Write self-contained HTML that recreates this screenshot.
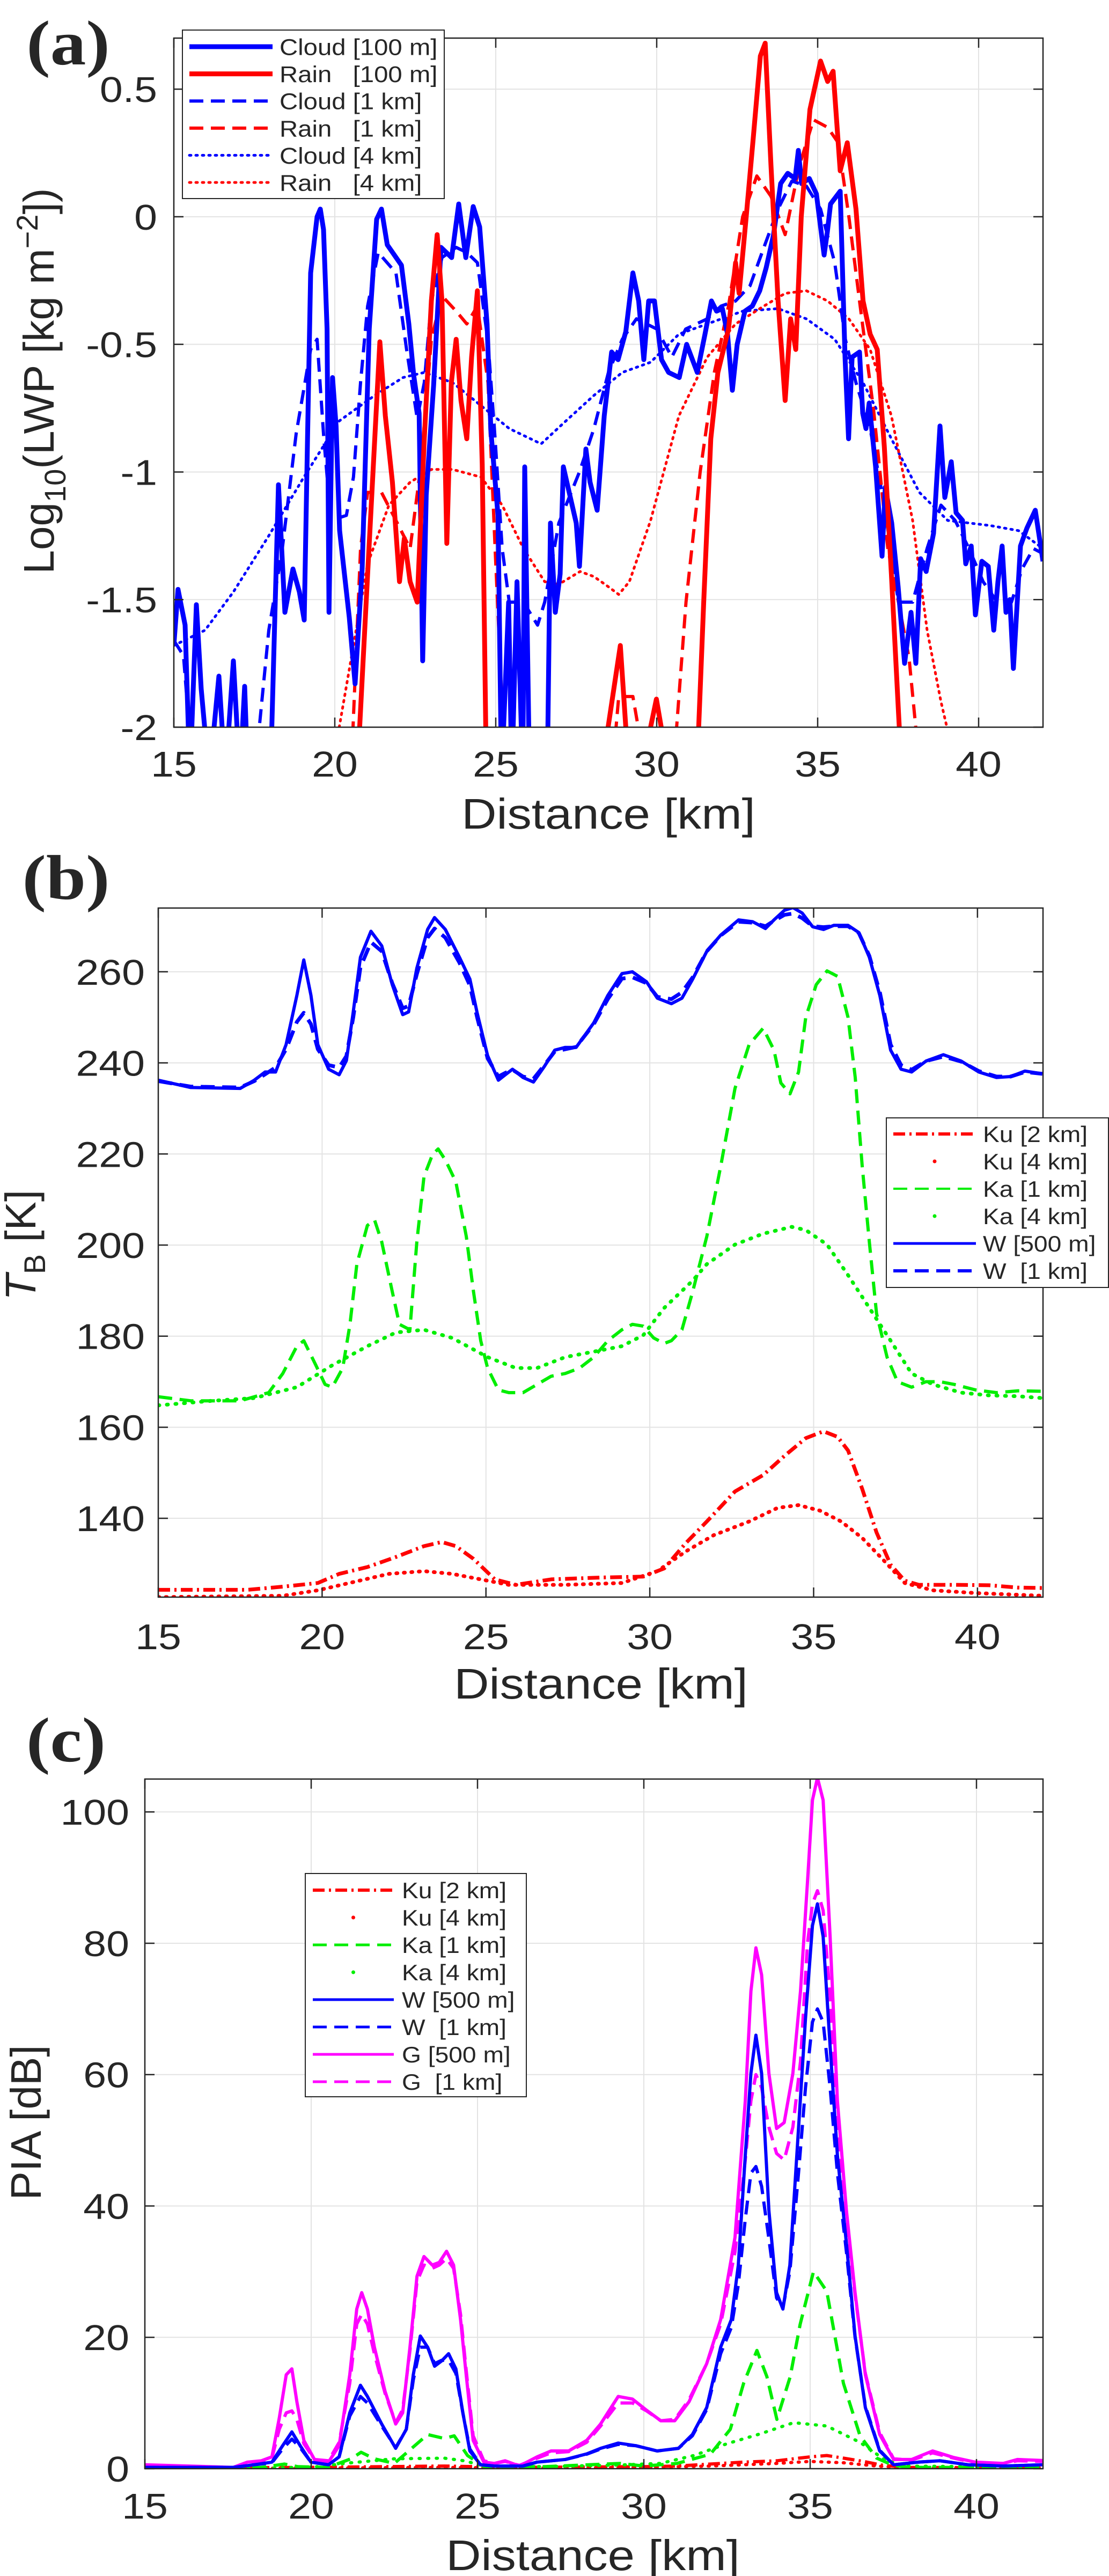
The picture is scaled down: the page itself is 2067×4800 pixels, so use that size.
<!DOCTYPE html>
<html><head><meta charset="utf-8"><style>
html,body{margin:0;padding:0;background:#fff}
svg{display:block}
text{font-family:"Liberation Sans",sans-serif;fill:#262626;white-space:pre}
</style></head><body>
<svg id="fig" width="2067" height="4800" viewBox="0 0 2067 4800" xmlns="http://www.w3.org/2000/svg" xml:space="preserve"></svg>
<script>
// ---------- Panel (a) data: LWP ----------
const aCloud100X=[15,15.13,15.35,15.5,15.7,15.85,16.1,16.4,16.6,16.85,17.05,17.2,17.3,18.0,18.25,18.45,18.7,18.9,19.05,19.15,19.25,19.45,19.55,19.65,19.76,19.82,19.93,20.04,20.15,20.3,20.45,20.63,20.85,21.07,21.3,21.45,21.63,21.85,22.07,22.3,22.45,22.62,22.73,22.84,23.07,23.3,23.63,23.85,24.07,24.3,24.5,24.73,24.85,25.07,25.18,25.4,25.5,25.66,25.84,25.9,26.05,26.6,26.7,26.85,27.0,27.1,27.3,27.5,27.6,27.8,27.93,28.15,28.37,28.6,28.8,29.04,29.26,29.44,29.6,29.75,29.93,30.15,30.37,30.7,30.93,31.26,31.5,31.7,31.86,32.04,32.2,32.35,32.5,32.74,32.97,33.2,33.4,33.63,33.85,34.07,34.3,34.4,34.5,34.74,34.96,35.2,35.3,35.4,35.7,35.85,35.96,36.07,36.3,36.4,36.5,36.6,36.8,37.0,37.1,37.3,37.5,37.7,37.9,38.05,38.2,38.37,38.6,38.8,38.95,39.15,39.3,39.5,39.6,39.77,39.9,40.1,40.3,40.47,40.6,40.73,40.85,40.97,41.08,41.3,41.5,41.76,42.0];
const aCloud100Y=[-1.68,-1.46,-1.6,-2.2,-1.52,-1.85,-2.2,-1.8,-2.2,-1.74,-2.2,-1.84,-2.2,-2.2,-1.05,-1.55,-1.38,-1.47,-1.58,-0.89,-0.22,0.0,0.03,-0.05,-0.44,-1.55,-0.63,-0.82,-1.23,-1.4,-1.57,-1.83,-1.38,-0.44,-0.01,0.03,-0.11,-0.15,-0.19,-0.42,-0.62,-0.77,-1.74,-1.09,-0.66,-0.12,-0.16,0.05,-0.16,0.04,-0.04,-0.42,-0.84,-1.17,-2.2,-1.51,-2.2,-1.43,-2.2,-0.98,-2.2,-2.2,-1.2,-1.55,-1.4,-0.98,-1.09,-1.2,-1.37,-0.91,-1.04,-1.15,-0.78,-0.53,-0.56,-0.45,-0.22,-0.33,-0.56,-0.33,-0.33,-0.56,-0.61,-0.63,-0.5,-0.61,-0.46,-0.33,-0.37,-0.36,-0.46,-0.68,-0.5,-0.37,-0.35,-0.29,-0.2,-0.07,0.13,0.17,0.15,0.26,0.13,0.15,0.09,-0.15,-0.06,0.05,0.1,-0.55,-0.87,-0.55,-0.53,-0.77,-0.83,-0.73,-0.98,-1.33,-1.06,-1.2,-1.45,-1.75,-1.55,-1.75,-1.34,-1.39,-1.24,-0.82,-1.1,-0.96,-1.16,-1.19,-1.36,-1.29,-1.56,-1.35,-1.37,-1.62,-1.43,-1.29,-1.55,-1.5,-1.77,-1.29,-1.22,-1.15,-1.35];
const aRain100X=[20.69,21.02,21.4,21.57,21.79,22.01,22.16,22.34,22.56,22.78,23.0,23.18,23.33,23.48,23.62,23.77,23.92,24.1,24.25,24.43,24.58,24.71,NaN,28.4,28.49,28.87,29.04,29.1,NaN,29.75,29.81,29.99,30.14,30.2,NaN,31.24,31.46,31.68,31.9,32.23,32.45,32.56,32.78,33.0,33.22,33.37,33.55,33.77,33.99,34.16,34.32,34.49,34.76,35.09,35.31,35.48,35.7,35.92,36.19,36.41,36.63,36.85,37.07,37.29,37.51,37.62];
const aRain100Y=[-2.2,-1.4,-0.49,-0.78,-1.04,-1.43,-1.26,-1.43,-1.51,-0.87,-0.33,-0.07,-0.33,-1.28,-0.65,-0.48,-0.72,-0.87,-0.55,-0.29,-0.97,-2.2,NaN,-2.2,-2.0,-1.68,-2.0,-2.2,NaN,-2.2,-2.0,-1.89,-2.0,-2.2,NaN,-2.2,-1.51,-0.87,-0.61,-0.44,-0.18,-0.3,0.0,0.31,0.63,0.68,0.2,-0.33,-0.72,-0.4,-0.52,0.0,0.42,0.61,0.53,0.57,0.18,0.29,0.03,-0.33,-0.46,-0.52,-0.9,-1.4,-1.94,-2.2];
const aCloud1X=[15,15.3,15.6,17.5,17.95,18.37,18.8,19.25,19.45,19.66,19.88,20.36,20.58,20.8,21.02,21.35,21.9,22.23,22.56,22.78,23.0,23.33,23.77,24.1,24.43,24.76,24.98,25.2,25.42,25.86,26.3,26.52,26.96,27.6,28.05,28.5,28.93,29.37,30.0,30.47,30.9,31.57,32.0,32.45,32.9,33.33,33.77,34.2,34.65,35.09,35.53,35.86,36.19,36.63,37.07,37.51,37.95,38.4,38.83,39.27,39.7,40.14,40.58,41.02,41.35,41.7,42.0];
const aCloud1Y=[-1.66,-1.72,-2.2,-2.2,-1.62,-1.3,-0.85,-0.52,-0.48,-0.87,-1.19,-1.17,-1.02,-0.65,-0.35,-0.14,-0.22,-0.52,-0.79,-0.65,-0.33,-0.16,-0.12,-0.14,-0.18,-0.49,-0.87,-1.3,-1.51,-1.51,-1.6,-1.51,-1.2,-1.0,-0.83,-0.61,-0.48,-0.4,-0.44,-0.55,-0.44,-0.4,-0.35,-0.33,-0.27,-0.12,0.03,0.14,0.12,0.03,-0.18,-0.48,-0.65,-0.83,-1.13,-1.51,-1.51,-1.3,-1.13,-1.19,-1.3,-1.43,-1.51,-1.51,-1.38,-1.3,-1.32];
const aRain1X=[20.5,20.8,21.02,21.45,21.9,22.34,22.67,23.0,23.33,23.77,24.1,24.43,24.76,24.98,25.3,NaN,28.6,28.82,29.26,29.7,NaN,30.5,30.91,31.35,31.79,32.23,32.67,33.11,33.55,33.99,34.43,34.87,35.31,35.64,35.97,36.3,36.74,37.18,37.51,37.84,38.2];
const aRain1Y=[-2.2,-1.3,-1.08,-1.08,-1.19,-1.3,-0.98,-0.48,-0.31,-0.37,-0.42,-0.35,-0.65,-1.3,-2.2,NaN,-2.2,-1.88,-1.88,-2.2,NaN,-2.2,-1.51,-1.0,-0.61,-0.35,0.0,0.16,0.08,-0.07,0.2,0.38,0.35,0.29,0.0,-0.33,-0.76,-1.3,-1.51,-1.73,-2.2];
const aCloud4X=[15,15.97,16.85,17.95,19.04,20.14,21.24,22.12,22.78,23.66,24.54,25.42,26.41,27.18,28.05,28.93,29.81,30.69,31.57,32.67,33.77,34.65,35.53,36.41,37.29,38.16,39.04,40.36,41.24,42];
const aCloud4Y=[-1.68,-1.62,-1.47,-1.25,-1.02,-0.8,-0.7,-0.63,-0.61,-0.65,-0.74,-0.83,-0.89,-0.8,-0.7,-0.61,-0.57,-0.46,-0.42,-0.37,-0.36,-0.4,-0.48,-0.65,-0.87,-1.08,-1.19,-1.21,-1.23,-1.3];
const aRain4X=[20.0,20.58,21.02,21.68,22.34,23.0,23.66,24.54,25.2,25.86,26.52,26.96,27.62,28.05,28.5,28.82,29.15,29.81,30.69,31.57,32.45,33.33,33.99,34.65,35.31,35.97,36.63,37.29,37.95,38.4,38.83,39.2];
const aRain4Y=[-2.1,-1.68,-1.36,-1.13,-1.04,-0.99,-0.99,-1.02,-1.13,-1.3,-1.43,-1.44,-1.39,-1.41,-1.45,-1.48,-1.43,-1.19,-0.78,-0.55,-0.42,-0.35,-0.3,-0.29,-0.33,-0.4,-0.52,-0.78,-1.19,-1.62,-1.9,-2.1];
const aYTicks=[-2,-1.5,-1,-0.5,0,0.5];
const aYTickLabels=["-2","-1.5","-1","-0.5","0","0.5"];
const xTicks=[15,20,25,30,35,40];
const xTickLabels=["15","20","25","30","35","40"];

// ---------- Panel (b) data: TB ----------
const bW500X=[15,15.99,17.5,17.93,18.26,18.58,18.9,19.23,19.44,19.66,19.87,20.2,20.52,20.74,20.95,21.17,21.49,21.82,22.14,22.46,22.64,22.89,23.22,23.43,23.76,24.19,24.51,24.73,25.05,25.38,25.59,25.81,26.13,26.45,26.78,27.1,27.42,27.75,28.29,28.72,29.15,29.47,29.9,30.23,30.66,30.98,31.31,31.74,32.17,32.71,33.14,33.53,33.79,34.11,34.37,34.65,34.97,35.3,35.62,36.05,36.38,36.7,37.02,37.35,37.67,37.99,38.43,38.96,39.5,40.04,40.58,41.01,41.45,41.98];
const bW500Y=[236.2,234.6,234.4,236.2,238,238,244,254.8,262.6,254.8,244,238.6,237.4,240.5,251.2,263.2,268.9,265.7,257.2,250.6,251.2,260.8,269.3,271.9,269.3,263.2,258.4,251,241.6,236.2,237.4,238.6,236.8,235.8,239.2,242.8,243.4,243.4,248.8,254.8,259.6,260,257.8,254.2,253,254.2,258.4,264.5,268.1,271.4,271,269.5,271.4,273.5,274.1,272.9,269.9,269.3,270.2,270.2,268.6,263.2,254.8,242.8,238.6,238,240.4,241.8,240.4,238,236.8,237,238.2,237.6];
const bW1X=[15,15.99,17.5,17.93,18.26,18.58,18.9,19.23,19.44,19.66,19.87,20.2,20.52,20.74,20.95,21.17,21.49,21.82,22.14,22.46,22.64,22.89,23.22,23.43,23.76,24.19,24.51,24.73,25.05,25.38,25.59,25.81,26.13,26.45,26.78,27.1,27.42,27.75,28.29,28.72,29.15,29.47,29.9,30.23,30.66,30.98,31.31,31.74,32.17,32.71,33.14,33.53,33.79,34.11,34.37,34.65,34.97,35.3,35.62,36.05,36.38,36.7,37.02,37.35,37.67,37.99,38.43,38.96,39.5,40.04,40.58,41.01,41.45,41.98];
const bW1Y=[236,234.8,234.6,236,237.5,239,243,249,251,248.5,243,239.5,239,241.5,250,261,266.5,264.5,257.5,252,252.5,259.5,267.5,269.5,267.5,262,257,250,241,237,237.8,238.5,237,236.5,239.5,242.5,243,243.5,248.5,254,258.5,258.8,257.5,254.5,254,255.5,258.8,264.5,268,271,270.8,270,271.2,272.5,272.8,271.8,270,269.8,270,270,268.5,263.5,255.5,244,239.5,238.5,240.4,241.4,240.3,238.2,237,237,238,237.6];
const bKa1X=[15,15.99,17.5,18.37,18.8,19.23,19.44,19.77,20.09,20.31,20.63,20.85,21.06,21.38,21.6,21.82,22.14,22.36,22.68,22.89,23.11,23.37,23.54,23.76,24.08,24.4,24.62,24.84,25.05,25.38,25.7,26.13,26.56,26.99,27.42,27.86,28.29,28.72,29.15,29.47,29.8,30.12,30.44,30.66,30.98,31.31,31.74,32.17,32.6,33.03,33.46,33.79,34.0,34.28,34.54,34.76,35.08,35.41,35.73,36.05,36.27,36.48,36.7,36.92,37.24,37.56,37.99,38.43,38.86,39.29,39.94,40.58,41.23,41.98];
const bKa1Y=[166.7,165.8,165.8,167.6,171.8,177.8,179,174.2,169.4,168.8,173,182.6,195.8,204.3,205.5,200.7,189.8,182.6,181.4,200.7,215.1,219.9,221.1,218.7,213.9,201.9,189.8,179,173,168.2,167.6,167.6,169.4,171.2,171.8,173,175.4,179,181.4,182.6,182.2,179.6,178.4,179,181.4,189.8,201.9,217.5,234.4,244,247.6,242.8,235.6,233.2,238,250,257.2,260.2,259,250,236.8,217.5,200.7,185,175.4,170,168.8,170,170,169.4,168.2,167.6,168,167.9];
const bKa4X=[15,16.64,17.93,19.23,20.31,21.38,22.25,23.11,23.97,25.05,25.91,26.56,27.42,28.29,29.15,29.8,30.44,31.31,31.74,32.6,33.46,34.33,34.76,35.41,36.05,36.7,37.35,37.99,38.64,39.5,40.36,41.23,41.98];
const bKa4Y=[164.8,165.8,166.4,168.8,173.6,177.8,180.8,181.4,179.6,175.4,173,173,175.4,176.6,177.8,180.2,186.2,192.2,195.8,200.1,202.5,204,203.3,200.1,193.4,186.2,179,171.8,169.4,167.6,167,166.8,166.4];
const bKu2X=[15,17.72,18.8,19.87,20.52,21.38,22.25,23.11,23.65,24.08,24.62,25.27,25.91,26.99,28.5,29.8,30.44,31.09,31.74,32.6,33.46,34.11,34.76,35.3,35.73,36.05,36.48,36.92,37.35,37.78,38.21,39.29,40.36,41.23,41.98];
const bKu2Y=[124.3,124.3,125,125.8,127.8,129.3,131.5,133.9,134.8,133.9,131.1,126.6,125.4,126.6,127,127.2,129,134.5,139.3,145.9,149.5,153.7,157.6,159.1,157.9,154.9,146.5,136.9,129.8,126.3,125.4,125.4,125.3,124.8,124.7];
const bKu4X=[15,18.8,19.87,20.95,22.03,23.11,23.97,24.84,25.7,27.42,29.15,30.23,31.09,31.95,33.03,33.9,34.54,35.19,35.84,36.48,37.12,37.78,38.64,39.94,41.98];
const bKu4Y=[122.7,123,124.2,126,127.8,128.4,127.8,126.6,125.4,125.4,125.8,128.4,132.7,136.3,139.3,142.3,142.9,141.7,139.3,135.7,130.9,125.8,124.2,123.6,123];
const bYTicks=[140,160,180,200,220,240,260];
const bYTickLabels=["140","160","180","200","220","240","260"];

// ---------- Panel (c) data: PIA ----------
const cG500X=[15,17.66,18.08,18.5,18.82,19.04,19.25,19.42,19.57,19.78,20.1,20.52,20.84,21.16,21.37,21.52,21.69,21.9,22.22,22.54,22.75,22.97,23.18,23.39,23.64,23.85,24.07,24.28,24.49,24.66,24.87,25.19,25.51,25.83,26.26,26.79,27.21,27.74,28.28,28.7,29.23,29.66,30.08,30.51,30.93,31.36,31.89,32.31,32.74,33.05,33.22,33.37,33.54,33.76,33.99,34.22,34.48,34.71,34.92,35.07,35.22,35.39,35.6,35.82,36.09,36.35,36.66,37.09,37.51,38.05,38.68,39.32,39.96,40.81,41.23,41.98];
const cG500Y=[0.6,0.2,1,1.2,1.8,7.7,14.3,15.2,10.2,4.3,1.4,1,3.5,14.3,24.3,26.8,24.3,18.5,11.8,6.8,8.5,18.5,29.3,32.3,31,31.4,33.1,31,22.7,14.3,4.3,1,0.8,1.2,0.4,1.8,2.7,2.7,4.3,6.8,11,10.6,8.9,7.3,7.3,10.2,16,22.7,35.2,56,72.7,79.3,75.2,60.2,51.8,52.7,60.2,72.7,89.3,101.8,105.2,101.8,81,56,39.3,26.8,14.3,5.2,1.4,1.4,2.7,1.7,1,0.8,1.4,1.25];
const cG1Y=[0.5,0.2,0.9,1.1,1.6,6,8.5,8.8,7.5,3.8,1.4,1.2,4,13,22,23.5,22,17.5,11.5,7,9,18,28.5,31,30.5,31,32,30.5,23.5,15,5,1.2,0.8,1.1,0.5,1.6,2.4,2.6,4,6.5,10,10,8.8,7.3,7.5,10.5,16,22,33,47,56,60,58,52,48,47,52,62,80,86,88,85,72,52,38,26.5,14.5,5.5,1.5,1.3,2.4,1.6,0.9,0.8,1.2,1.1];
const cW500X=[15,17.66,18.29,18.82,19.14,19.42,19.67,19.99,20.52,20.84,21.16,21.48,21.69,22.12,22.54,22.86,23.07,23.28,23.5,23.71,23.92,24.13,24.35,24.56,24.77,25.09,25.51,26.36,26.79,27.64,28.28,28.7,29.23,29.76,30.4,31.04,31.46,31.89,32.31,32.63,32.84,33.05,33.22,33.37,33.54,33.76,33.99,34.18,34.39,34.65,34.86,35.07,35.22,35.39,35.6,35.82,36.09,36.35,36.66,37.09,37.51,38.26,38.9,39.75,40.81,41.98];
const cW500Y=[0.2,0.2,0.6,1,3.5,5.6,3.5,1,0.6,1.8,8.5,12.7,11,6.8,3.1,6,14.3,20.2,18.5,15.6,16.4,17.5,15.2,8.5,2.7,0.6,0.4,0.4,1,1.4,2.25,3.1,3.9,3.5,2.7,3.1,5.2,9.3,18.5,22.7,31,47.7,60.2,66,60.2,39.3,26.8,24.3,31,51.8,68.5,82.7,86,81,64.3,47.7,34.3,20.2,9.3,2.7,0.6,1,1.2,0.6,0.4,0.6];
const cW1Y=[0.2,0.2,0.6,0.9,3,4.5,3.2,1,0.6,1.8,8,11,10,6.5,3.2,6,13.5,18.5,18.5,16,16.5,16.5,14.5,8.5,3,0.6,0.4,0.4,1,1.4,2.2,3,3.7,3.5,2.7,3.1,5,9,17.5,21.5,28,38,45,46,43,35,26,24.5,30,45,58,68,70,68,58,45,33,20,9.5,2.8,0.6,1,1.2,0.6,0.4,0.6];
const cKa1X=[15,18.5,19.2,19.6,20.5,21.2,21.5,21.9,22.5,23.0,23.5,24.0,24.3,24.7,25.2,27,29.3,30,31,32,32.6,33.0,33.4,33.7,34.0,34.4,34.7,35.1,35.5,36.0,36.5,37.0,37.5,38.0,42];
const cKa1Y=[0,0.2,0.7,0.3,0.2,1.5,2.5,1.5,0.8,3,5.2,4.6,5,2,0.3,0.3,0.8,0.4,0.8,2.2,6,13,18,14,7.5,14,22,30,27,13,5,1.6,0.5,0.2,0.2];
const cKa4X=[15,19,20.2,21,22.5,24,24.6,25.2,27,29.5,30.5,31.5,32.5,33.5,34.5,35.5,36.5,37.2,37.8,42];
const cKa4Y=[0,0.1,0.3,0.8,1.5,1.6,1.2,0.4,0.3,0.6,0.8,2,3.8,5.3,7,6.5,4,1.5,0.4,0.2];
const cKu2X=[15,20,24,26,30,31,32,33,34,35,35.5,36,36.6,37.2,38,42];
const cKu2Y=[0.1,0.2,0.4,0.2,0.3,0.4,0.7,1,1.2,1.8,2,1.6,1.1,0.5,0.2,0.1];
const cKu4X=[15,20,24,26,30,32,33,34,35,36,37,38,42];
const cKu4Y=[0.05,0.1,0.2,0.1,0.2,0.4,0.6,0.8,1.1,0.9,0.4,0.1,0.05];
const cYTicks=[0,20,40,60,80,100];
const cYTickLabels=["0","20","40","60","80","100"];

const NS="http://www.w3.org/2000/svg";
const svg=document.getElementById('fig');
function mk(tag,attrs,parent){const e=document.createElementNS(NS,tag);for(const k in attrs)e.setAttribute(k,attrs[k]);(parent||svg).appendChild(e);return e;}

function makeAxes(id,x0,x1,y0,y1,xmin,xmax,ymin,ymax){
  const sx=v=>x0+(v-xmin)/(xmax-xmin)*(x1-x0);
  const sy=v=>y1-(v-ymin)/(ymax-ymin)*(y1-y0);
  const g=mk('g',{});
  
  
  const cp=mk('clipPath',{id:'clip'+id},g);
  mk('rect',{x:x0,y:y0,width:x1-x0,height:y1-y0},cp);
  return {g,sx,sy,x0,x1,y0,y1,id};
}
function grid(ax,xt,yt){
  const gg=mk('g',{},ax.g);
  
  
  xt.forEach(v=>{const X=ax.sx(v);if(X>ax.x0+1&&X<ax.x1-1)mk('line',{x1:X,x2:X,y1:ax.y0,y2:ax.y1,stroke:'#e3e3e3','stroke-width':2},gg);});
  yt.forEach(v=>{const Y=ax.sy(v);if(Y>ax.y0+1&&Y<ax.y1-1)mk('line',{x1:ax.x0,x2:ax.x1,y1:Y,y2:Y,stroke:'#e3e3e3','stroke-width':2},gg);});
}
function frame(ax,xt,xl,yt,yl,tickY,lblRight){
  const fg=mk('g',{},ax.g);
  
  
  mk('rect',{x:ax.x0,y:ax.y0,width:ax.x1-ax.x0,height:ax.y1-ax.y0,fill:'none',stroke:'#262626','stroke-width':2.5},fg);
  const T=18;
  xt.forEach((v,i)=>{const X=ax.sx(v);
    mk('line',{x1:X,x2:X,y1:ax.y1,y2:ax.y1-T,stroke:'#262626','stroke-width':2.5},fg);
    mk('line',{x1:X,x2:X,y1:ax.y0,y2:ax.y0+T,stroke:'#262626','stroke-width':2.5},fg);
    const t=mk('text',{'font-size':67,'text-anchor':'middle',transform:`translate(${X},${tickY}) scale(1.15,1)`},fg);
    
    
    t.textContent=xl[i];});
  yt.forEach((v,i)=>{const Y=ax.sy(v);
    mk('line',{x1:ax.x0,x2:ax.x0+T,y1:Y,y2:Y,stroke:'#262626','stroke-width':2.5},fg);
    mk('line',{x1:ax.x1,x2:ax.x1-T,y1:Y,y2:Y,stroke:'#262626','stroke-width':2.5},fg);
    const t=mk('text',{'font-size':67,'text-anchor':'end',transform:`translate(${lblRight},${Y+24}) scale(1.15,1)`},fg);
    
    
    t.textContent=yl[i];});
}
function series(ax,xs,ys,color,w,dash,name,cap){
  let d='',pen=false;
  for(let i=0;i<xs.length;i++){
    if(isNaN(xs[i])||isNaN(ys[i])){pen=false;continue;}
    d+=(pen?'L':'M')+ax.sx(xs[i]).toFixed(1)+','+ax.sy(ys[i]).toFixed(1);pen=true;}
  const p=mk('path',{d,fill:'none',stroke:color,'stroke-width':w,'stroke-linejoin':'round','stroke-linecap':cap||'butt','clip-path':`url(#clip${ax.id})`},ax.g);
  if(dash)p.setAttribute('stroke-dasharray',dash);
  
  
}
function legend(parent,bx,by,bw,bh,rows,sx0,sx1,tx,ry0,rstep,fs,name){
  const lg=mk('g',{},parent);
  
  
  mk('rect',{x:bx,y:by,width:bw,height:bh,fill:'#fff',stroke:'#262626','stroke-width':2},lg);
  rows.forEach((r,i)=>{const Y=ry0+i*rstep;
    const ent=mk('g',{},lg);
    
    
    if(r.marker){mk('circle',{cx:(sx0+sx1)/2,cy:Y,r:r.w/2+0.5,fill:r.c},ent);}
    else{const l=mk('line',{x1:sx0,x2:sx1,y1:Y,y2:Y,stroke:r.c,'stroke-width':r.w,'stroke-linecap':r.cap||'butt'},ent);if(r.d)l.setAttribute('stroke-dasharray',r.d);}
    const t=mk('text',{'font-size':fs,transform:`translate(${tx},${Y+fs*0.36}) scale(1.1,1)`},ent);
    t.textContent=r.t;});
}
function label(txt,x,y,size,name,rot,family,weight){
  const t=mk('text',{'font-size':size,'text-anchor':'middle',transform:`translate(${x},${y})`+(rot?` rotate(${rot})`:'')+(rot?'':' scale(1.13,1)')});
  if(family)t.setAttribute('style',`font-family:${family};font-weight:${weight||'normal'}`);
  
  
  t.innerHTML=txt;return t;
}

// ---------- Panel A ----------
const A=makeAxes('a',324,1944,71,1355,15,42,-2,0.7);
grid(A,xTicks,aYTicks);
series(A,aCloud4X,aCloud4Y,'#0000ff',5,'3 9','cloud-4km-line','round');
series(A,aRain4X,aRain4Y,'#ff0000',5,'3 9','rain-4km-line','round');
series(A,aCloud1X,aCloud1Y,'#0000ff',6,'26 14','cloud-1km-line');
series(A,aRain1X,aRain1Y,'#ff0000',6,'26 14','rain-1km-line');
series(A,aCloud100X,aCloud100Y,'#0000ff',9,null,'cloud-100m-line');
series(A,aRain100X,aRain100Y,'#ff0000',9,null,'rain-100m-line');
frame(A,xTicks,xTickLabels,aYTicks,aYTickLabels,1447,293);
legend(A.g,340,56,488,314,[
 {t:'Cloud [100 m]',c:'#0000ff',w:9},{t:'Rain   [100 m]',c:'#ff0000',w:9},
 {t:'Cloud [1 km]',c:'#0000ff',w:6,d:'26 14'},{t:'Rain   [1 km]',c:'#ff0000',w:6,d:'26 14'},
 {t:'Cloud [4 km]',c:'#0000ff',w:5,d:'3 9',cap:'round'},{t:'Rain   [4 km]',c:'#ff0000',w:5,d:'3 9',cap:'round'}],
 353,508,521,87,50.6,43,'legend-a');
label('Distance [km]',1134,1544,80,'x-axis-title-a');
label('Log<tspan font-size="56" dy="22">10</tspan><tspan dy="-22">(LWP [kg m</tspan><tspan font-size="56" dy="-30">−2</tspan><tspan dy="30">])</tspan>',100,710,80,'y-axis-title-a',-90);
label('(a)',127,120,118,'panel-label-a',0,'"Liberation Serif",serif','bold');

// ---------- Panel B ----------
const B=makeAxes('b',295,1944,1692,2976,15,42,122.7,274);
grid(B,xTicks,bYTicks);
series(B,bKu4X,bKu4Y,'#ff0000',7,'2 12','ku-4km-line','round');
series(B,bKu2X,bKu2Y,'#ff0000',7,'22 8 4 8','ku-2km-line');
series(B,bKa4X,bKa4Y,'#00ee00',7,'2 14','ka-4km-line','round');
series(B,bKa1X,bKa1Y,'#00ee00',6,'26 14','ka-1km-line');
series(B,bW1X,bW1Y,'#0000ff',7,'26 14','w-1km-line');
series(B,bW500X,bW500Y,'#0000ff',6,null,'w-500m-line');
frame(B,xTicks,xTickLabels,bYTicks,bYTickLabels,3073,270);
legend(B.g,1652,2083,414,316,[
 {t:'Ku [2 km]',c:'#ff0000',w:6,d:'22 8 4 8'},{t:'Ku [4 km]',c:'#ff0000',w:6,marker:true},
 {t:'Ka [1 km]',c:'#00ee00',w:4,d:'26 14'},{t:'Ka [4 km]',c:'#00ee00',w:6,marker:true},
 {t:'W [500 m]',c:'#0000ff',w:5},{t:'W  [1 km]',c:'#0000ff',w:6,d:'26 14'}],
 1665,1819,1832,2113,51,42,'legend-b');
label('Distance [km]',1120,3165,80,'x-axis-title-b');
label('<tspan font-style="italic">T</tspan><tspan font-size="56" dy="18">B</tspan><tspan dy="-18"> [K]</tspan>',66,2320,80,'y-axis-title-b',-90);
label('(b)',123,1675,118,'panel-label-b',0,'"Liberation Serif",serif','bold');

// ---------- Panel C ----------
const C=makeAxes('c',270,1944,3315,4600,15,42,0,105);
grid(C,xTicks,cYTicks);
series(C,cKu4X,cKu4Y,'#ff0000',6,'2 12','ku-4km-line-c','round');
series(C,cKu2X,cKu2Y,'#ff0000',6,'22 8 4 8','ku-2km-line-c');
series(C,cKa4X,cKa4Y,'#00ee00',6,'2 14','ka-4km-line-c','round');
series(C,cKa1X,cKa1Y,'#00ee00',6,'26 14','ka-1km-line-c');
series(C,cG500X,cG1Y,'#ff00ff',6,'26 14','g-1km-line');
series(C,cG500X,cG500Y,'#ff00ff',6,null,'g-500m-line');
series(C,cW500X,cW1Y,'#0000ff',6,'26 14','w-1km-line-c');
series(C,cW500X,cW500Y,'#0000ff',6,null,'w-500m-line-c');
frame(C,xTicks,xTickLabels,cYTicks,cYTickLabels,4693,241);
legend(C.g,569,3491,412,416,[
 {t:'Ku [2 km]',c:'#ff0000',w:6,d:'22 8 4 8'},{t:'Ku [4 km]',c:'#ff0000',w:6,marker:true},
 {t:'Ka [1 km]',c:'#00ee00',w:5,d:'26 14'},{t:'Ka [4 km]',c:'#00ee00',w:6,marker:true},
 {t:'W [500 m]',c:'#0000ff',w:5},{t:'W  [1 km]',c:'#0000ff',w:5,d:'26 14'},
 {t:'G [500 m]',c:'#ff00ff',w:5},{t:'G  [1 km]',c:'#ff00ff',w:5,d:'26 14'}],
 583,734,749,3522,51,42,'legend-c');
label('Distance [km]',1105,4789,80,'x-axis-title-c');
label('PIA [dB]',76,3955,80,'y-axis-title-c',-90);
label('(c)',123,3282,118,'panel-label-c',0,'"Liberation Serif",serif','bold');
</script>
</body></html>
